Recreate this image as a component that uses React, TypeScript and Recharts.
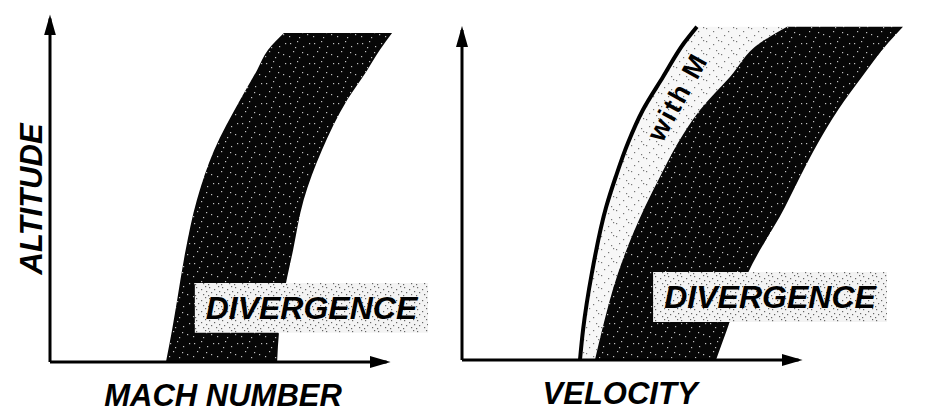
import { ComposedChart, Area, Line, XAxis, YAxis, ReferenceArea, ReferenceDot, ReferenceLine, Label } from 'recharts'

// left panel: divergence band vs mach number (altitude -> inner / outer edge)
const machAlt = [0, 9.2, 17.9, 32.3, 46.7, 61.1, 75.5, 84.1, 89.9, 94.8]
const machInner = [34.1, 35.9, 37.4, 39.9, 43.2, 48.3, 55.9, 60.9, 64.1, 68.8]
const machOuter = [66.8, 67.4, 68.5, 71.5, 74.6, 80.0, 87.4, 93.3, 97.0, 100.6]

// right panel: divergence band vs velocity, plus the "with M" curve
const velAlt = [0, 9.0, 26.1, 45.9, 54.9, 65.1, 75.0, 84.9, 95.1, 100]
const velWithM = [34.7, 35.6, 38.2, 42.4, 45.2, 48.8, 53.2, 59.1, 65.3, 69.1]
const velInner = [39.1, 41.2, 45.9, 53.8, 58.2, 63.5, 70.0, 78.8, 87.6, 95.6]
const velOuter = [74.7, 77.9, 84.1, 95.0, 99.4, 104.7, 110.6, 117.6, 125.3, 129.7]

const machData = machAlt.map((alt, i) => ({ alt, band: [machInner[i], machOuter[i]] }))
const velData = velAlt.map((alt, i) => ({
  alt,
  withM: velWithM[i],
  gap: [velWithM[i], velInner[i]],
  band: [velInner[i], velOuter[i]],
}))

const FONT = '"Liberation Sans", Arial, Helvetica, sans-serif'

const darkSpecks = [[2, 3], [9, 1], [15, 6], [5, 11], [19, 14], [11, 17], [21, 3], [7, 7], [14, 12], [1, 16]]
const lightSpecks = [[1, 2], [8, 5], [4, 9], [11, 11], [13, 1]]
const boxSpecks = [[1, 1], [6, 3], [10, 0], [3, 6], [8, 8], [11, 5], [0, 9]]

function Defs({ id }: { id: string }) {
  return (
    <defs>
      <marker id={`${id}-arrow`} markerUnits="userSpaceOnUse" markerWidth={21} markerHeight={12} viewBox="0 0 21 12" refX={17} refY={6} orient="auto">
        <path d="M0,0 L21,6 L0,12 Z" fill="#000" />
      </marker>
      <pattern id={`${id}-dark`} width={24} height={20} patternUnits="userSpaceOnUse">
        <rect width={24} height={20} fill="#070707" />
        {darkSpecks.map(([x, y], i) => <rect key={i} x={x} y={y} width={1.2} height={1.2} fill="#fff" opacity={0.75} />)}
      </pattern>
      <pattern id={`${id}-light`} width={15} height={13} patternUnits="userSpaceOnUse">
        <rect width={15} height={13} fill="#f7f7f7" />
        {lightSpecks.map(([x, y], i) => <rect key={i} x={x} y={y} width={1.2} height={1.2} fill="#777" />)}
      </pattern>
      <pattern id={`${id}-box`} width={13} height={11} patternUnits="userSpaceOnUse">
        <rect width={13} height={11} fill="#f3f3f3" />
        {boxSpecks.map(([x, y], i) => <rect key={i} x={x} y={y} width={1.2} height={1.2} fill="#666" />)}
      </pattern>
    </defs>
  )
}

const arrow = (id: string) => (p: any) => (
  <line x1={p.x1} y1={p.y1} x2={p.x2} y2={p.y2} stroke="#000" strokeWidth={3} markerEnd={`url(#${id}-arrow)`} />
)

const titleStyle = { fill: '#000', fontSize: 31, fontWeight: 700, fontStyle: 'italic', fontFamily: FONT } as const
const boxText = { fill: '#000', fontSize: 32, fontWeight: 700, fontStyle: 'italic', fontFamily: FONT } as const

function MachPanel() {
  return (
    <ComposedChart width={450} height={420} layout="vertical" data={machData} margin={{ top: 15, right: 9, bottom: 58, left: 50 }}>
      <Defs id="l" />
      <XAxis type="number" domain={[0, 115]} hide />
      <YAxis type="number" dataKey="alt" domain={[0, 100]} reversed hide />
      <Area dataKey="band" type="monotone" stroke="none" fill="url(#l-dark)" fillOpacity={1} isAnimationActive={false} />
      <ReferenceLine segment={[{ x: 0, y: 0 }, { x: 99, y: 0 }]} ifOverflow="visible" shape={arrow('l')} />
      <ReferenceLine segment={[{ x: 0, y: 0 }, { x: 0, y: 99 }]} ifOverflow="visible" shape={arrow('l')} />
      <ReferenceArea x1={42.6} x2={111.2} y1={8.4} y2={22.8} fill="url(#l-box)" fillOpacity={1} stroke="none" ifOverflow="visible">
        <Label value="DIVERGENCE" position="center" {...boxText} />
      </ReferenceArea>
      <ReferenceDot x={50.9} y={-9.6} r={0} ifOverflow="visible">
        <Label value="MACH NUMBER" position="center" {...titleStyle} />
      </ReferenceDot>
      <ReferenceDot x={-5.6} y={47} r={0} ifOverflow="visible">
        <Label value="ALTITUDE" position="center" angle={-90} {...titleStyle} />
      </ReferenceDot>
    </ComposedChart>
  )
}

function VelocityPanel() {
  return (
    <ComposedChart width={518} height={420} layout="vertical" data={velData} margin={{ top: 20, right: 17, bottom: 60, left: 42 }}>
      <Defs id="r" />
      <XAxis type="number" domain={[0, 135]} hide />
      <YAxis type="number" dataKey="alt" domain={[0, 102]} reversed hide />
      <Area dataKey="gap" type="monotone" stroke="none" fill="url(#r-light)" fillOpacity={1} isAnimationActive={false} />
      <Area dataKey="band" type="monotone" stroke="none" fill="url(#r-dark)" fillOpacity={1} isAnimationActive={false} />
      <Line dataKey="withM" type="monotone" stroke="#000" strokeWidth={4} dot={false} activeDot={false} isAnimationActive={false} />
      <ReferenceLine segment={[{ x: 0, y: 0 }, { x: 99, y: 0 }]} ifOverflow="visible" shape={arrow('r')} />
      <ReferenceLine segment={[{ x: 0, y: 0 }, { x: 0, y: 99 }]} ifOverflow="visible" shape={arrow('r')} />
      <ReferenceArea x1={56.2} x2={125} y1={11.4} y2={26.4} fill="url(#r-box)" fillOpacity={1} stroke="none" ifOverflow="visible">
        <Label value="DIVERGENCE" position="center" {...boxText} />
      </ReferenceArea>
      <ReferenceDot x={63.3} y={79} r={0} ifOverflow="visible">
        <Label value="with M" position="center" angle={-61} fill="#000" fontSize={27} fontWeight={700} fontFamily={FONT} letterSpacing={2} />
      </ReferenceDot>
      <ReferenceDot x={46.5} y={-9.9} r={0} ifOverflow="visible">
        <Label value="VELOCITY" position="center" {...titleStyle} />
      </ReferenceDot>
    </ComposedChart>
  )
}

export default function App() {
  return (
    <div style={{ position: 'absolute', left: 0, top: 0, width: 938, height: 420, background: '#fff', overflow: 'hidden' }}>
      <div style={{ position: 'absolute', left: 0, top: 0 }}>
        <MachPanel />
      </div>
      <div style={{ position: 'absolute', left: 420, top: 0 }}>
        <VelocityPanel />
      </div>
    </div>
  )
}
